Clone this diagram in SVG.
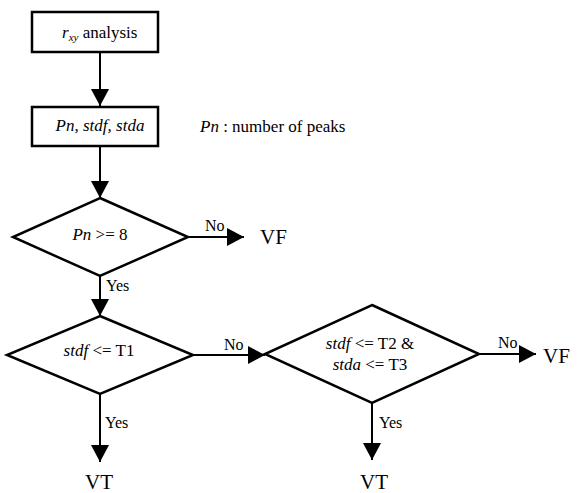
<svg xmlns="http://www.w3.org/2000/svg" width="580" height="493" viewBox="0 0 580 493" font-family="'Liberation Serif', 'Times New Roman', serif">
<style>
text{font-family:"Liberation Serif","Times New Roman",Times,serif;fill:#000}
.t{font-size:17px}
.i{font-style:italic}
.s{font-size:16px}
.b{font-size:21px}
.shape{fill:#fff;stroke:#000;stroke-width:2.5}
.c{stroke:#000;stroke-width:2;fill:none;marker-end:url(#ah)}
</style>
<defs>
<marker id="ah" viewBox="0 0 17 18" refX="17" refY="9" markerWidth="17" markerHeight="18" markerUnits="userSpaceOnUse" orient="auto">
<path d="M0,0 L17,9 L0,18 Z" fill="#000"/>
</marker>
</defs>
<rect width="580" height="493" fill="#fff"/>
<g id="connectors">
<line class="c" x1="100" y1="52" x2="100" y2="106"/>
<line class="c" x1="100" y1="146" x2="100" y2="198"/>
<line class="c" x1="188" y1="237" x2="244" y2="237"/>
<line class="c" x1="100" y1="276" x2="100" y2="316"/>
<line class="c" x1="193" y1="355" x2="265" y2="355"/>
<line class="c" x1="100" y1="394" x2="100" y2="462"/>
<line class="c" x1="479" y1="354" x2="536" y2="354"/>
<line class="c" x1="372" y1="403" x2="372" y2="460"/>
</g>
<g id="n1">
<rect class="shape" x="32" y="12" width="126" height="40"/>
<text class="t" x="62" y="38"><tspan class="i">r</tspan><tspan class="i" font-size="11" dy="3">xy</tspan><tspan dy="-3"> analysis</tspan></text>
</g>
<g id="n2">
<rect class="shape" x="32" y="107" width="126" height="39"/>
<text class="t i" x="100" y="131" text-anchor="middle">Pn, stdf, stda</text>
</g>
<g id="note">
<text class="t" x="200" y="132"><tspan class="i">Pn</tspan> : number of peaks</text>
</g>
<g id="d1">
<polygon class="shape" points="100,198 188,237 100,276 13,237"/>
<text class="t" x="100" y="240" text-anchor="middle"><tspan class="i">Pn</tspan> &gt;= 8</text>
</g>
<g id="d2">
<polygon class="shape" points="100,316 193,355 100,394 7,355"/>
<text class="t" x="99" y="356" text-anchor="middle"><tspan class="i">stdf</tspan> &lt;= T1</text>
</g>
<g id="d3">
<polygon class="shape" points="372,305 479,354 372,403 265,354"/>
<text class="t" x="370" y="349" text-anchor="middle"><tspan class="i">stdf</tspan> &lt;= T2 &amp;</text>
<text class="t" x="370" y="370" text-anchor="middle"><tspan class="i">stda</tspan> &lt;= T3</text>
</g>
<g id="labels">
<text class="s" x="205" y="231">No</text>
<text class="s" x="106" y="291">Yes</text>
<text class="s" x="224" y="350">No</text>
<text class="s" x="105" y="428">Yes</text>
<text class="s" x="498" y="348">No</text>
<text class="s" x="379" y="428">Yes</text>
</g>
<g id="vf1"><text class="b" x="260" y="244">VF</text></g>
<g id="vt1"><text class="b" x="85" y="489">VT</text></g>
<g id="vf2"><text class="b" x="543" y="363">VF</text></g>
<g id="vt2"><text class="b" x="360" y="489">VT</text></g>
</svg>
